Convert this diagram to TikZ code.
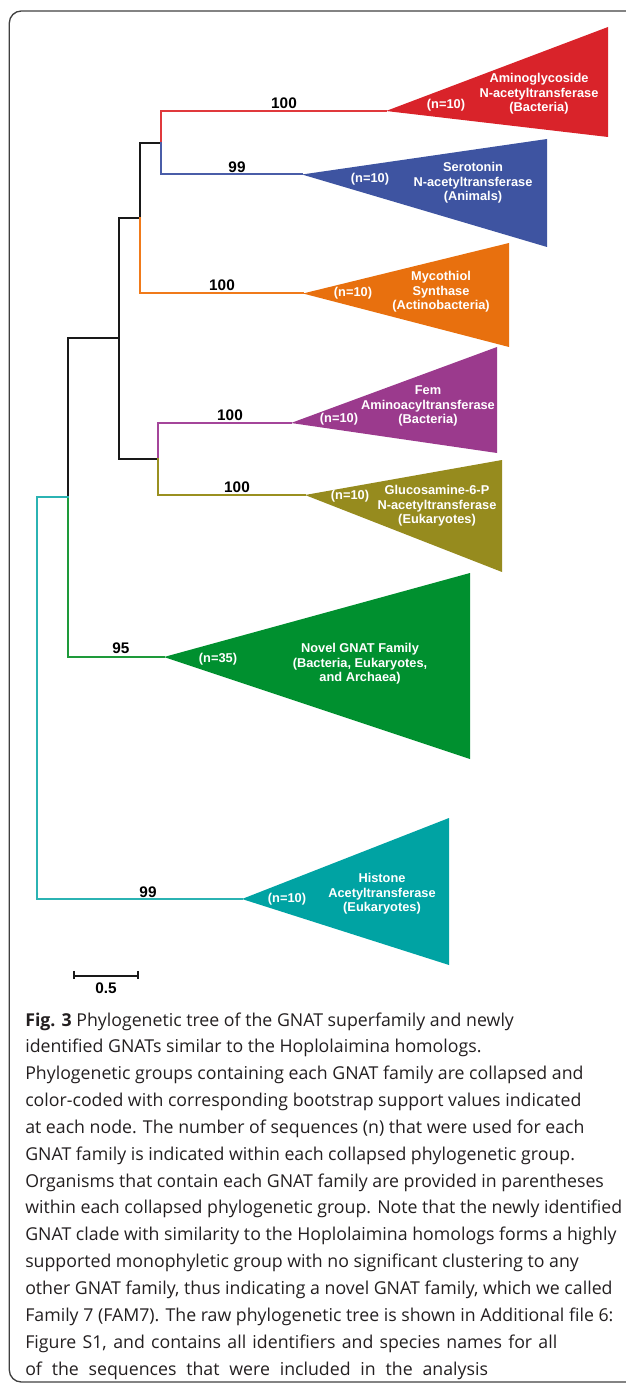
\documentclass[tikz,border=0pt]{standalone}
\usepackage{fontspec}
\setmainfont{Open Sans}
\newfontfamily\arialfont{Liberation Sans}
\definecolor{cRed}{HTML}{D9232A}
\definecolor{lRed}{HTML}{E0393C}
\definecolor{cBlue}{HTML}{3E54A1}
\definecolor{lBlue}{HTML}{4A5DA8}
\definecolor{cOrange}{HTML}{E8700E}
\definecolor{lOrange}{HTML}{F07A1A}
\definecolor{cPurple}{HTML}{9B3A8D}
\definecolor{lPurple}{HTML}{A4459A}
\definecolor{cOlive}{HTML}{968B1E}
\definecolor{lOlive}{HTML}{9A9020}
\definecolor{cGreen}{HTML}{00902F}
\definecolor{lGreen}{HTML}{1E9A3A}
\definecolor{cTeal}{HTML}{00A3A3}
\definecolor{lTeal}{HTML}{2BB3B3}
\definecolor{capText}{HTML}{231F20}
\definecolor{frameC}{HTML}{404040}
\begin{document}
\begin{tikzpicture}[x=0.75pt,y=-0.75pt,
  branch/.style={line width=1.5pt, line cap=rect, line join=miter},
  boot/.style={font={\arialfont\bfseries\fontsize{11.5pt}{13pt}\selectfont}, inner sep=0pt, text=black},
  clade/.style={font={\arialfont\bfseries\fontsize{9.6pt}{11pt}\selectfont}, text=white, align=center, inner sep=0pt},
  capline/.style={font={\fontsize{13.3pt}{20pt}\selectfont}, text=capText, anchor=base west, inner sep=0pt}]
\useasboundingbox (0,0) rectangle (625,1383);
% frame
\draw[frameC, line width=1pt, rounded corners=9] (9.3,11) rectangle (660,1382);

% junction coordinates
\coordinate (root) at (37,497);
\coordinate (nA) at (68,497);
\coordinate (nB) at (119,338);
\coordinate (nC) at (140,218);
\coordinate (nD) at (161,143);
\coordinate (nE) at (158,459);
% apexes
\coordinate (aRed) at (386,111);
\coordinate (aBlue) at (302,174.5);
\coordinate (aOrange) at (303,293.5);
\coordinate (aPurple) at (291,423);
\coordinate (aOlive) at (305,495);
\coordinate (aGreen) at (164,657);
\coordinate (aTeal) at (242,899);

% triangles
\fill[cRed] (aRed) -- (608,27) -- (608,137) -- cycle;
\fill[cBlue] (aBlue) -- (547,139) -- (547,247) -- cycle;
\fill[cOrange] (aOrange) -- (509,243) -- (509,347) -- cycle;
\fill[cPurple] (aPurple) -- (497,347) -- (497,453) -- cycle;
\fill[cOlive] (aOlive) -- (502,460) -- (502,572) -- cycle;
\fill[cGreen] (aGreen) -- (470,573) -- (470,759) -- cycle;
\fill[cTeal] (aTeal) -- (449,818) -- (449,965) -- cycle;

% branches
\draw[branch, black!90] (nA) |- (nB) |- (nC) |- (nD);
\draw[branch, black!90] (nB) |- (nE);
\draw[branch, lRed] (nD) |- (aRed);
\draw[branch, lBlue] (nD) |- (aBlue);
\draw[branch, lOrange] (nC) |- (aOrange);
\draw[branch, lPurple] (nE) |- (aPurple);
\draw[branch, lOlive] (nE) |- (aOlive);
\draw[branch, lGreen] (nA) |- (aGreen);
\draw[branch, lTeal] (nA) -- (root) |- (aTeal);

% bootstrap labels
\node[boot] (bRed) at (284,103) {100};
\node[boot] (bBlue) at (237,167) {99};
\node[boot] (bOrange) at (222,285) {100};
\node[boot] (bPurple) at (230,415) {100};
\node[boot] (bOlive) at (237,487) {100};
\node[boot] (bGreen) at (121,648) {95};
\node[boot] (bTeal) at (148,892) {99};

% clade labels
\node[clade] (nRed) at (446,105) {(n=10)};
\node[clade] (tRed) at (539,94) {Aminoglycoside\\N-acetyltransferase\\(Bacteria)};
\node[clade] (nBlue) at (370,179) {(n=10)};
\node[clade] (tBlue) at (473,183) {Serotonin\\N-acetyltransferase\\(Animals)};
\node[clade] (nOrange) at (353,293) {(n=10)};
\node[clade] (tOrange) at (441,292) {Mycothiol\\Synthase\\(Actinobacteria)};
\node[clade] (nPurple) at (339,419) {(n=10)};
\node[clade] (tPurple) at (428,406) {Fem\\Aminoacyltransferase\\(Bacteria)};
\node[clade] (nOlive) at (350,496) {(n=10)};
\node[clade] (tOlive) at (437,506) {Glucosamine-6-P\\N-acetyltransferase\\(Eukaryotes)};
\node[clade] (nGreen) at (218,659) {(n=35)};
\node[clade] (tGreen) at (360,664) {Novel GNAT Family\\(Bacteria, Eukaryotes,\\and Archaea)};
\node[clade] (nTeal) at (287,899) {(n=10)};
\node[clade] (tTeal) at (382,894) {Histone\\Acetyltransferase\\(Eukaryotes)};

% scale bar
\coordinate (sL) at (74,975.5);
\coordinate (sR) at (138,975.5);
\draw[line width=1.5pt, black!90] (sL) -- (sR);
\draw[line width=1.5pt, black!90] ([yshift=3.5pt]sL) -- ([yshift=-2.5pt]sL);
\draw[line width=1.5pt, black!90] ([yshift=3.5pt]sR) -- ([yshift=-2.5pt]sR);
\node[boot] (scale) at (106,988.5) {0.5};

% caption
\node[capline] (c1) at (25,1026) {\textbf{Fig. 3} Phylogenetic tree of the GNAT superfamily and newly};
\node[capline] (c2) at (25,1052.85) {identified GNATs similar to the Hoplolaimina homologs.};
\node[capline] (c3) at (25,1079.7) {Phylogenetic groups containing each GNAT family are collapsed and};
\node[capline] (c4) at (25,1106.55) {color-coded with corresponding bootstrap support values indicated};
\node[capline] (c5) at (25,1133.4) {at each node. The number of sequences (n) that were used for each};
\node[capline] (c6) at (25,1160.25) {GNAT family is indicated within each collapsed phylogenetic group.};
\node[capline] (c7) at (25,1187.1) {Organisms that contain each GNAT family are provided in parentheses};
\node[capline] (c8) at (25,1213.95) {within each collapsed phylogenetic group. Note that the newly identified};
\node[capline] (c9) at (25,1240.8) {GNAT clade with similarity to the Hoplolaimina homologs forms a highly};
\node[capline] (c10) at (25,1267.65) {supported monophyletic group with no significant clustering to any};
\node[capline] (c11) at (25,1294.5) {other GNAT family, thus indicating a novel GNAT family, which we called};
\node[capline] (c12) at (25,1321.35) {Family 7 (FAM7). The raw phylogenetic tree is shown in Additional file 6:};
\node[capline] (c13) at (25,1348.2) {\makebox[399pt][s]{Figure S1, and contains all identifiers and species names for all}};
\node[capline] (c14) at (25,1375) {\makebox[347pt][s]{of the sequences that were included in the analysis}};
\end{tikzpicture}
\end{document}
